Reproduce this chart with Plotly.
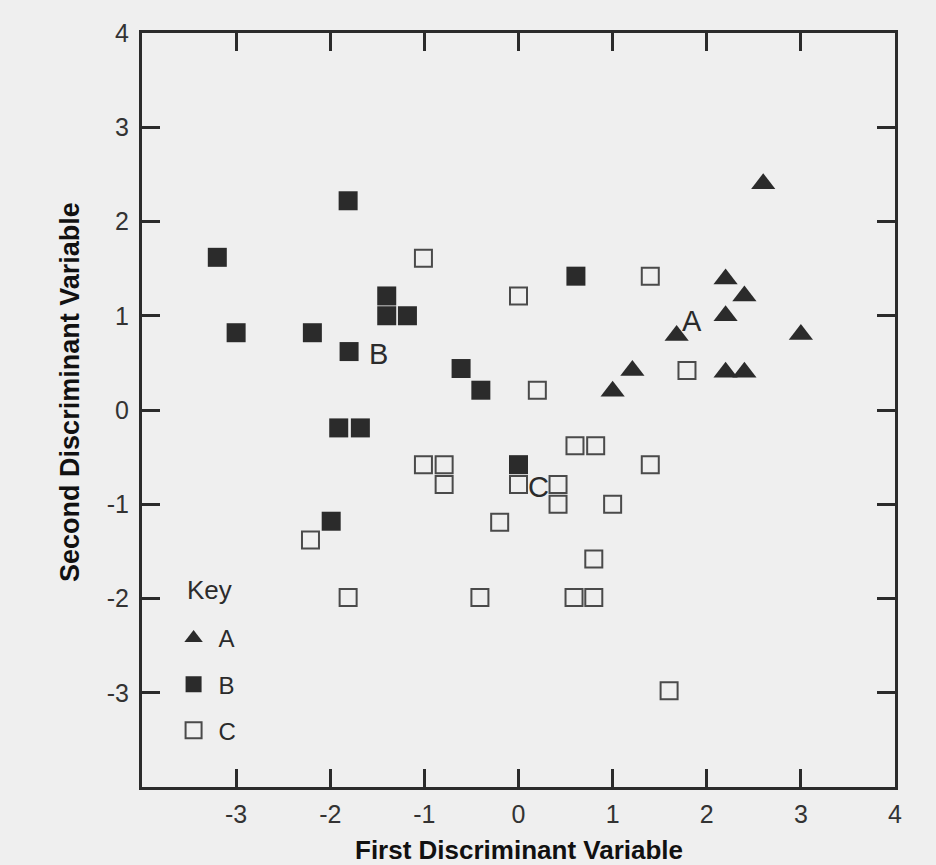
import plotly.graph_objects as go

# Group A (filled triangles)
a_x = [2.60, 2.20, 2.40, 2.20, 1.68, 3.00, 1.21, 2.20, 2.40, 1.00]
a_y = [2.40, 1.39, 1.21, 1.00, 0.79, 0.80, 0.42, 0.40, 0.40, 0.20]

# Group B (filled squares)
b_x = [-1.81, -3.20, -1.40, -1.40, -1.18, -3.00, -2.19, -1.80, -0.61, -0.40,
       0.61, -1.91, -1.68, 0.00, -1.99]
b_y = [2.22, 1.62, 1.21, 1.00, 1.00, 0.82, 0.82, 0.62, 0.44, 0.21,
       1.42, -0.19, -0.19, -0.58, -1.18]

# Group C (open squares)
c_x = [-1.01, 0.00, 1.40, 0.20, 1.79, -1.01, -0.79, -0.79, 0.00, -0.20,
       -2.21, -1.81, -0.41, 0.60, 0.82, 1.40, 0.42, 0.42, 1.00, 0.80,
       0.59, 0.80, 1.60]
c_y = [1.61, 1.21, 1.42, 0.21, 0.42, -0.58, -0.58, -0.79, -0.79, -1.19,
       -1.38, -1.99, -1.99, -0.38, -0.38, -0.58, -0.79, -1.00, -1.00, -1.58,
       -1.99, -1.99, -2.98]

# Group labels placed near the clusters
group_labels = ["A", "B", "C"]
group_label_x = [1.84, -1.49, 0.21]
group_label_y = [0.945, 0.59, -0.82]

tick_vals = [-3, -2, -1, 0, 1, 2, 3, 4]
tick_text = ["-3", "-2", "-1", "0", "1", "2", "3", "4"]

BG = "#efefef"
INK = "#2b2b2b"
FONT = "Liberation Sans, Arial, Helvetica, sans-serif"

fig = go.Figure()
fig.add_trace(go.Scatter(x=a_x, y=a_y, mode="markers", name="A", legendgroup="A",
                         marker=dict(symbol="triangle-up", size=21, color=INK,
                                     line=dict(width=0))))
fig.add_trace(go.Scatter(x=b_x, y=b_y, mode="markers", name="B", legendgroup="B",
                         marker=dict(symbol="square", size=19, color=INK,
                                     line=dict(width=0))))
fig.add_trace(go.Scatter(x=c_x, y=c_y, mode="markers", name="C", legendgroup="C",
                         marker=dict(symbol="square", size=17, color=BG,
                                     line=dict(width=2, color="#4a4a4a"))))

for t, x, y in zip(group_labels, group_label_x, group_label_y):
    fig.add_annotation(x=x, y=y, text=t, showarrow=False,
                       font=dict(family=FONT, size=29, color=INK))

# Axis titles (as annotations for exact placement)
fig.add_annotation(xref="paper", yref="paper", x=-0.0956, y=0.524,
                   text="<b>Second Discriminant Variable</b>", textangle=-90,
                   showarrow=False, xanchor="center", yanchor="middle",
                   font=dict(family=FONT, size=27, color="#111"))
fig.add_annotation(xref="paper", yref="paper", x=0.501, y=-0.0836,
                   text="<b>First Discriminant Variable</b>",
                   showarrow=False, xanchor="center", yanchor="middle",
                   font=dict(family=FONT, size=26, color="#111"))

# Legend heading
fig.add_annotation(xref="paper", yref="paper", x=0.0903, y=0.261,
                   text="Key", showarrow=False, xanchor="center", yanchor="middle",
                   font=dict(family=FONT, size=26, color=INK))

axis_common = dict(range=[-4, 4], tickmode="array", tickvals=tick_vals, ticktext=tick_text,
                   ticks="inside", ticklen=18, tickwidth=3, tickcolor=INK,
                   showline=True, linewidth=3, linecolor=INK, mirror="ticks",
                   showgrid=False, zeroline=False, automargin=False,
                   tickfont=dict(family=FONT, size=25, color="#333"))

fig.update_xaxes(**axis_common, ticklabelstandoff=3)
fig.update_yaxes(**axis_common, ticklabelstandoff=5)

fig.update_layout(
    width=936, height=865,
    margin=dict(l=142, r=41, t=33, b=78, autoexpand=False),
    paper_bgcolor=BG, plot_bgcolor=BG,
    showlegend=True,
    legend=dict(x=0.0353, y=0.227, xanchor="left", yanchor="top",
                bgcolor="rgba(0,0,0,0)", tracegroupgap=12, itemwidth=40,
                font=dict(family=FONT, size=24, color=INK)),
)

fig.write_html("out.html",
               config={"displayModeBar": False},
               post_script="document.body.style.margin='0';"
                           "document.body.style.background='#efefef';")
